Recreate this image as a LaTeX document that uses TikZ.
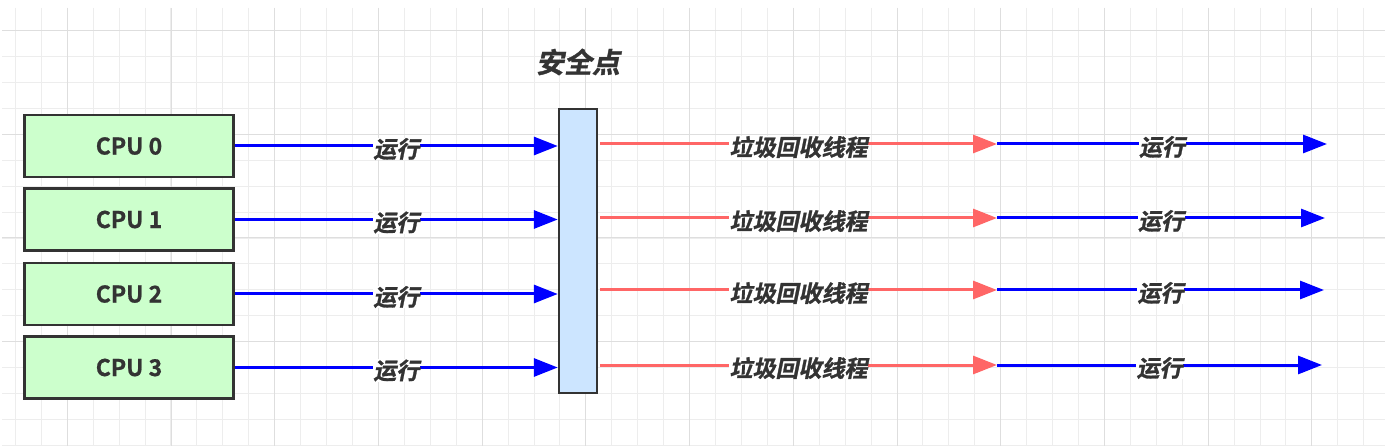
\documentclass[tikz,border=0pt]{standalone}
\usepackage{fontspec}
\setmainfont{Noto Sans CJK SC}
\newfontfamily\cjklab[FakeSlant=0.2,FakeBold=1.2]{Noto Sans CJK SC Bold}
\newfontfamily\cpufont[FakeBold=0.8]{Noto Sans CJK SC Bold}
\usepackage{tikz}
\usetikzlibrary{arrows.meta}
\definecolor{cpugreen}{HTML}{CCFFCC}
\definecolor{spblue}{HTML}{CCE5FF}
\definecolor{gcred}{HTML}{FF6666}
\definecolor{runblue}{HTML}{0000FF}
\definecolor{txtgray}{HTML}{333333}
\definecolor{gridminor}{HTML}{EDEDED}
\definecolor{gridmajor}{HTML}{DEDEDE}
\tikzstyle{cpu}=[draw=txtgray,line width=2.4pt,fill=cpugreen,minimum width=209pt,minimum height=62pt,inner sep=0pt,text=txtgray,font=\cpufont\fontsize{23pt}{23pt}\selectfont]
\tikzstyle{safepoint}=[draw=txtgray,line width=2.4pt,fill=spblue,minimum width=38pt,minimum height=284pt,inner sep=0pt]
\tikzstyle{title}=[text=txtgray,font=\cjklab\fontsize{28pt}{28pt}\selectfont]
\tikzstyle{runarrow}=[draw=runblue,line width=3pt,-{Triangle[length=24pt,width=18pt]}]
\tikzstyle{gcarrow}=[draw=gcred,line width=3pt,-{Triangle[length=24pt,width=18pt]}]
\tikzstyle{lab}=[fill=white,inner sep=0.5pt,yshift=-3pt,text=txtgray,font=\cjklab\fontsize{23pt}{23pt}\selectfont]

\begin{document}
\begin{tikzpicture}[x=1pt,y=-1pt]

    \fill[white] (0,0) rectangle (1392,446);
    \useasboundingbox (0,0) rectangle (1392,446);

    % grid
    \foreach \k in {0,...,52}
        \draw[gridminor,line width=1pt] ({15.4+25.93*\k},8) -- ++(0,438);
    \foreach \k in {0,...,16}
        \draw[gridminor,line width=1pt] (2,{30.6+25.93*\k}) -- (1385,{30.6+25.93*\k});
    \foreach \k in {0,...,12}
        \draw[gridmajor,line width=1pt] ({67.4+103.7*\k},8) -- ++(0,438);
    \foreach \k in {0,...,3}
        \draw[gridmajor,line width=1pt] (2,{30.6+103.7*\k}) -- (1385,{30.6+103.7*\k});

    % cpus and safe point
    \foreach \pos/\name/\txt in {{(129,146)/cpu0/CPU 0},{(129,219.5)/cpu1/CPU 1},{(129,294)/cpu2/CPU 2},{(129,367.5)/cpu3/CPU 3}}
        \node[cpu] (\name) at \pos {\txt};

    \node[safepoint] (sp) at (578,251) {};
    \node[title] (sptitle) at (578,62) {安全点};

    \foreach \i in {0,...,3}
        \draw[runarrow] (cpu\i.east) -- node[lab] {运行} (cpu\i.east -| sp.west);

    % after the safe point
    \foreach \i/\y/\xe in {0/144/1327, 1/218/1325, 2/290/1324, 3/365/1322} {
        \coordinate (g\i) at (600,\y);
        \coordinate (m\i) at (997,\y);
        \coordinate (e\i) at (\xe,\y);
    }
    \foreach \i in {0,...,3} {
        \draw[runarrow] (m\i) -- node[lab] {运行} (e\i);
        \draw[gcarrow] (g\i) -- node[lab] {垃圾回收线程} (m\i);
    }

\end{tikzpicture}
\end{document}
